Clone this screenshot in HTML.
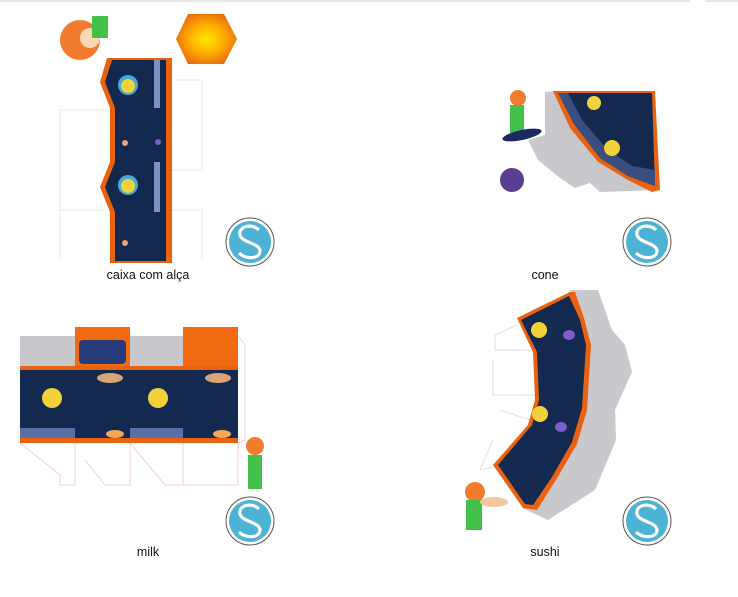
<!DOCTYPE html>
<html><head><meta charset="utf-8"><style>
html,body{margin:0;padding:0;background:#fff;width:738px;height:597px;overflow:hidden}
svg{display:block}
text{font-family:"Liberation Sans","DejaVu Sans",sans-serif;font-size:12.5px;fill:#111}
</style></head><body>
<svg width="738" height="597" viewBox="0 0 738 597" xmlns="http://www.w3.org/2000/svg">
<defs>
<radialGradient id="sun" cx="50%" cy="50%" r="55%"><stop offset="0" stop-color="#ffe600"/><stop offset="0.5" stop-color="#ffb000"/><stop offset="1" stop-color="#e96a10"/></radialGradient>
<g id="logo"><circle r="24" fill="#fff" stroke="#555" stroke-width="1"/><circle r="21" fill="#4db3d4"/>
<path d="M9,-12 C2,-19 -12,-16 -10,-7 C-8,1 10,1 10,9 C10,17 -4,18 -11,11" fill="none" stroke="#fff" stroke-width="3.2"/></g>
</defs>
<line x1="0" y1="1" x2="690" y2="1" stroke="#ccc"/><line x1="705" y1="1" x2="738" y2="1" stroke="#ccc"/>

<!-- caixa com alça -->
<g fill="none" stroke="#e8e8e8"><path d="M60,110 h45 M60,210 h45 M60,110 v150 M172,80 h30 v90 h-30 M172,210 h30 v50"/></g>
<polygon points="107,58 172,58 172,263 110,263 110,212 100,187 110,162 110,108 100,82" fill="#e8620f"/>
<polygon points="112,60 166,60 166,261 115,261 115,212 105,187 115,162 115,108 105,82" fill="#12284f"/>
<rect x="154" y="60" width="6" height="48" fill="#8090c0"/><rect x="154" y="162" width="6" height="50" fill="#8090c0"/>
<circle cx="128" cy="85" r="10" fill="#4aa8d8"/><circle cx="128" cy="86" r="7" fill="#f2d23a"/>
<circle cx="128" cy="185" r="10" fill="#4aa8d8"/><circle cx="128" cy="186" r="7" fill="#f2d23a"/>
<circle cx="125" cy="143" r="3" fill="#e9a27a"/><circle cx="158" cy="142" r="3" fill="#7b60c8"/><circle cx="125" cy="243" r="3" fill="#e9a27a"/>
<polygon points="176,39 188,14 224,14 237,39 224,64 188,64" fill="url(#sun)"/>
<circle cx="80" cy="40" r="20" fill="#f27b2e"/><circle cx="90" cy="38" r="10" fill="#f8d7b5"/><rect x="92" y="16" width="16" height="22" fill="#43c04a"/>
<use href="#logo" x="250" y="242"/>
<text x="148" y="279" text-anchor="middle">caixa com alça</text>

<!-- cone -->
<polygon points="545,92 560,91 575,125 600,150 630,172 655,176 655,190 600,192 590,183 575,188 560,178 538,160 528,140 545,135" fill="#c8c8cc"/>
<polygon points="553,91 655,91 660,190 652,192 628,180 598,162 570,128" fill="#e8620f"/>
<polygon points="558,93 652,93 655,186 628,176 600,158 574,124" fill="#15294f"/>
<polygon points="558,93 568,93 582,120 606,148 632,166 655,170 655,186 628,176 600,158 574,124" fill="#3a4e80"/>
<circle cx="594" cy="103" r="7" fill="#f2d23a"/><circle cx="612" cy="148" r="8" fill="#f2d23a"/>
<circle cx="518" cy="98" r="8" fill="#f27b2e"/><rect x="510" y="105" width="14" height="28" fill="#43c04a"/>
<ellipse cx="522" cy="135" rx="20" ry="5" fill="#1a2a60" transform="rotate(-12 522 135)"/>
<circle cx="512" cy="180" r="12" fill="#5b3d92"/>
<use href="#logo" x="647" y="242"/>
<text x="545" y="279" text-anchor="middle">cone</text>

<!-- milk -->
<g fill="none" stroke="#f0d0d8"><path d="M20,443 L60,475 V485 H75 V443 M130,443 V485 H105 L85,460 M130,443 L165,485 H183 V443 M183,443 V485 H238 V443 M238,336 L245,345 V440 L238,443"/></g>
<rect x="20" y="336" width="218" height="30" fill="#c8c8cc"/>
<rect x="75" y="327" width="55" height="40" fill="#f26a10"/><rect x="183" y="327" width="55" height="40" fill="#f26a10"/>
<rect x="79" y="340" width="47" height="24" rx="4" fill="#273c78"/>
<rect x="20" y="366" width="218" height="77" fill="#e8620f"/>
<rect x="20" y="370" width="218" height="68" fill="#14294f"/>
<rect x="20" y="428" width="55" height="10" fill="#5a6ea8"/><rect x="130" y="428" width="53" height="10" fill="#5a6ea8"/>
<circle cx="52" cy="398" r="10" fill="#f2d23a"/><circle cx="158" cy="398" r="10" fill="#f2d23a"/>
<ellipse cx="110" cy="378" rx="13" ry="5" fill="#d9a577"/><ellipse cx="218" cy="378" rx="13" ry="5" fill="#d9a577"/>
<ellipse cx="115" cy="434" rx="9" ry="4" fill="#f2a85a"/><ellipse cx="222" cy="434" rx="9" ry="4" fill="#f2a85a"/>
<circle cx="255" cy="446" r="9" fill="#f27b2e"/><rect x="248" y="455" width="14" height="34" fill="#43c04a"/>
<use href="#logo" x="250" y="521"/>
<text x="148" y="556" text-anchor="middle">milk</text>

<!-- sushi -->
<g fill="none" stroke="#e0e0e8"><path d="M517,325 L495,335 V350 H535 M493,360 V395 H535 M500,410 L530,420 M493,440 L480,470 L493,467"/></g>
<polygon points="570,290 598,290 612,330 625,345 632,372 615,410 616,440 595,490 548,520 522,508 552,478 573,442 583,408 587,345 580,318" fill="#c9c9cd"/>
<polygon points="517,318 570,292 575,292 584,318 591,345 587,410 577,444 556,480 537,510 523,508 493,465 528,425 535,400 533,352" fill="#e8620f"/>
<polygon points="521,320 569,296 580,320 586,345 582,408 572,442 552,477 533,505 525,504 498,465 532,425 539,400 537,352" fill="#14294f"/>
<circle cx="539" cy="330" r="8" fill="#f2d23a"/><circle cx="540" cy="414" r="8" fill="#f2d23a"/>
<ellipse cx="569" cy="335" rx="6" ry="5" fill="#7b60c8"/><ellipse cx="561" cy="427" rx="6" ry="5" fill="#7b60c8"/>
<circle cx="475" cy="492" r="10" fill="#f27b2e"/><rect x="466" y="500" width="16" height="30" fill="#43c04a"/>
<ellipse cx="494" cy="502" rx="14" ry="5" fill="#f4c7a0"/>
<use href="#logo" x="647" y="521"/>
<text x="545" y="556" text-anchor="middle">sushi</text>
</svg>
</body></html>
